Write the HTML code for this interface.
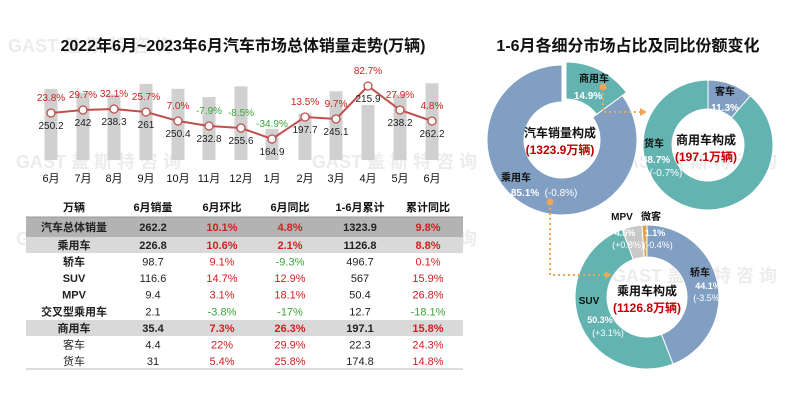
<!DOCTYPE html>
<html><head><meta charset="utf-8"><style>
body{margin:0;background:#fff;}
svg{display:block;font-family:"Liberation Sans","Noto Sans CJK SC",sans-serif;}
</style></head><body>
<svg id="s" width="800" height="401" viewBox="0 0 800 401" xmlns="http://www.w3.org/2000/svg">
<g fill="#ececec" font-size="18" font-weight="bold">
<text x="8" y="52">GAST 盖 斯 特 咨 询</text>
<text x="16" y="168">GAST 盖 斯 特 咨 询</text>
<text x="312" y="168">GAST 盖 斯 特 咨 询</text>
<text x="16" y="245">GAST 盖 斯 特 咨 询</text>
<text x="312" y="245">GAST 盖 斯 特 咨 询</text>
<text x="612" y="168">GAST 盖 斯 特 咨 询</text>
<text x="612" y="282">GAST 盖 斯 特 咨 询</text>
</g>
<text x="243" y="51" font-size="16" font-weight="bold" text-anchor="middle" fill="#111">2022年6月~2023年6月汽车市场总体销量走势(万辆)</text>
<text x="628" y="51" font-size="16" font-weight="bold" text-anchor="middle" fill="#111">1-6月各细分市场占比及同比份额变化</text>
<g id="chart"></g>
<g id="table"></g>
<g id="donuts"></g>
</svg>
<script>
const NS="http://www.w3.org/2000/svg";
function el(p,t,a,txt){const e=document.createElementNS(NS,t);for(const k in a)e.setAttribute(k,a[k]);if(txt!=null)e.textContent=txt;p.appendChild(e);return e;}
const c=document.getElementById('chart');
const xs=[51,83,114,146,178,209,241,272,305,336,368,400,432];
const vals=[250.2,242,238.3,261,250.4,232.8,255.6,164.9,197.7,245.1,215.9,238.2,262.2];
const ly=[113,110,109,112,121,126,128,139,117,119,86,110,121];
const pct=["23.8%","29.7%","32.1%","25.7%","7.0%","-7.9%","-8.5%","-34.9%","13.5%","9.7%","82.7%","27.9%","4.8%"];
const months=["6月","7月","8月","9月","10月","11月","12月","1月","2月","3月","4月","5月","6月"];
xs.forEach((x,i)=>{const h=0.468*vals[i]-46;el(c,'rect',{x:x-6.5,y:160-h,width:13,height:h,fill:'#d0d0d0'});});
el(c,'polyline',{points:xs.map((x,i)=>x+','+ly[i]).join(' '),fill:'none',stroke:'#c0504d','stroke-width':2});
xs.forEach((x,i)=>{
 el(c,'circle',{cx:x,cy:ly[i],r:4,fill:'#fff',stroke:'#c0504d','stroke-width':1.3});
 const neg=pct[i][0]=='-';
 el(c,'text',{x:x,y:ly[i]-12,'font-size':10,'text-anchor':'middle',fill:neg?'#3aa53a':'#d02020'},pct[i]);
 el(c,'text',{x:x,y:ly[i]+16,'font-size':10,'text-anchor':'middle',fill:'#222'},String(vals[i]));
 el(c,'text',{x:x,y:182,'font-size':11,'text-anchor':'middle',fill:'#111'},months[i]);
});
const t=document.getElementById('table');
const cx=[74,153,222,290,360,428];
const hdr=["万辆","6月销量","6月环比","6月同比","1-6月累计","累计同比"];
hdr.forEach((h,i)=>el(t,'text',{x:cx[i],y:211,'font-size':11,'font-weight':'bold','text-anchor':'middle',fill:'#111'},h));
const rows=[
["汽车总体销量","262.2","10.1%","4.8%","1323.9","9.8%",1,'#b3b3b3'],
["乘用车","226.8","10.6%","2.1%","1126.8","8.8%",1,'#d9d9d9'],
["轿车","98.7","9.1%","-9.3%","496.7","0.1%",0,null],
["SUV","116.6","14.7%","12.9%","567","15.9%",0,null],
["MPV","9.4","3.1%","18.1%","50.4","26.8%",0,null],
["交叉型乘用车","2.1","-3.8%","-17%","12.7","-18.1%",0,null],
["商用车","35.4","7.3%","26.3%","197.1","15.8%",1,'#d9d9d9'],
["客车","4.4","22%","29.9%","22.3","24.3%",0,null],
["货车","31","5.4%","25.8%","174.8","14.8%",0,null]];
const rtop=[217,237,253,270,286,303,320,336,353,369];
rows.forEach((r,j)=>{
 const y0=rtop[j],y1=rtop[j+1],yc=(y0+y1)/2+4;
 if(r[7])el(t,'rect',{x:26,y:y0,width:437,height:y1-y0,fill:r[7]});
 for(let i=0;i<6;i++){
  let col='#222';if(i==2||i==3||i==5)col=r[i][0]=='-'?'#3aa53a':'#d02020';
  el(t,'text',{x:cx[i],y:yc,'font-size':11,'font-weight':(r[6]||(i==0&&j>1&&j<6))?'bold':'normal','text-anchor':'middle',fill:col},r[i]);
 }
});
el(t,'line',{x1:26,y1:369,x2:463,y2:369,stroke:'#bbb','stroke-width':1});
el(t,'line',{x1:26,y1:217,x2:463,y2:217,stroke:'#999','stroke-width':1});
const d=document.getElementById('donuts');
function arc(cx,cy,R,r,a0,a1,fill){
 const p=(rad,a)=>[cx+rad*Math.sin(a*Math.PI/180),cy-rad*Math.cos(a*Math.PI/180)];
 const L=(a1-a0)>180?1:0;
 const [x1,y1]=p(R,a0),[x2,y2]=p(R,a1),[x3,y3]=p(r,a1),[x4,y4]=p(r,a0);
 el(d,'path',{d:`M${x1},${y1}A${R},${R} 0 ${L} 1 ${x2},${y2}L${x3},${y3}A${r},${r} 0 ${L} 0 ${x4},${y4}Z`,fill:fill,stroke:'#fff','stroke-width':1});
}
const B='#819fc3',T='#63b3b1';
arc(562,140,75,38,53.6,360,B);
arc(566,137,75,38,0,53.6,T);
arc(708,145,65,36,0,40.7,B);
arc(708,145,65,36,40.7,360,T);
arc(647,297,72,40,0,158.8,B);
arc(647,297,72,40,158.8,339.9,T);
arc(647,297,72,40,339.9,356,'#c8c8c8');
arc(647,297,72,40,356,360,'#d9a44a');
const O='#f0a55a';
el(d,'path',{d:'M603,88 V112 H640',fill:'none',stroke:O,'stroke-width':2,'stroke-dasharray':'2,3'});
el(d,'path',{d:'M640,108 L647,112 L640,116Z',fill:O});
el(d,'path',{d:'M550,203 V275 H605',fill:'none',stroke:O,'stroke-width':2,'stroke-dasharray':'2,3'});
el(d,'path',{d:'M605,271 L612,275 L605,279Z',fill:O});
el(d,'circle',{cx:603,cy:87,r:3.5,fill:O});
el(d,'circle',{cx:550,cy:202,r:3.5,fill:O});
function tx(x,y,s,fs,col,bold){el(d,'text',{x:x,y:y,'font-size':fs,'font-weight':bold?'bold':'normal','text-anchor':'middle',fill:col},s);}
tx(594,82,"商用车",10,'#111',1);tx(588,99,"14.9%",10,'#fff',1);
tx(560,137,"汽车销量构成",12,'#111',1);tx(560,154,"(1323.9万辆)",12,'#c00000',1);
tx(516,181,"乘用车",10,'#111',1);tx(525,196,"85.1%",10,'#fff',1);tx(561,196,"(-0.8%)",10,'#fff',0);
tx(725,95,"客车",10,'#111',1);tx(725,111,"11.3%",10,'#fff',1);
tx(706,144,"商用车构成",12,'#111',1);tx(706,161,"(197.1万辆)",12,'#c00000',1);
tx(654,147,"货车",10,'#111',1);tx(656,163,"88.7%",10,'#fff',1);tx(666,176,"(-0.7%)",10,'#fff',0);
tx(622,220,"MPV",10,'#111',1);tx(651,220,"微客",10,'#111',1);
tx(625,236,"4.5%",9,'#fff',1);tx(655,236,"1.1%",9,'#fff',1);
tx(628,248,"(+0.8%)",9,'#fff',0);tx(658,248,"(-0.4%)",9,'#fff',0);
tx(700,276,"轿车",10,'#111',1);tx(708,289,"44.1%",9,'#fff',1);tx(708,301,"(-3.5%)",9,'#fff',0);
tx(589,304,"SUV",10,'#111',1);tx(600,323,"50.3%",9,'#fff',1);tx(608,336,"(+3.1%)",9,'#fff',0);
tx(647,295,"乘用车构成",12,'#111',1);tx(647,312,"(1126.8万辆)",12,'#c00000',1);
</script>
</body></html>
